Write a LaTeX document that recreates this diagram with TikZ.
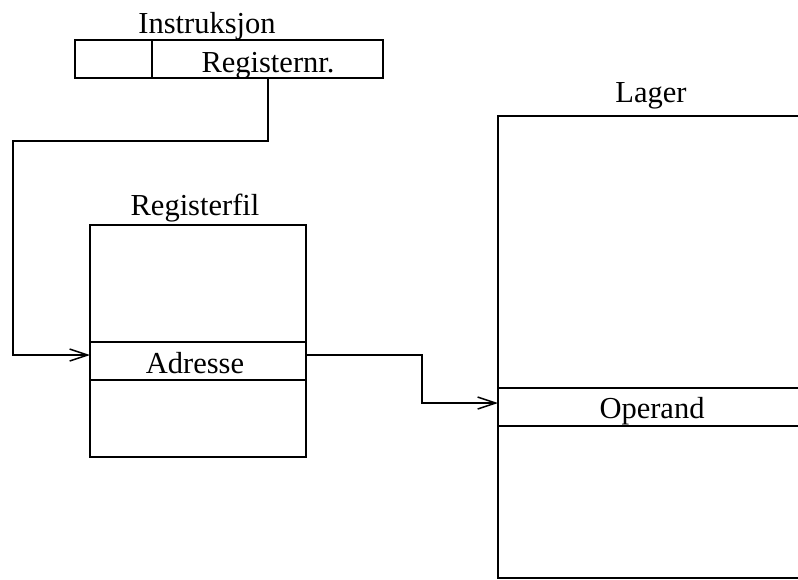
\documentclass[tikz,border=0pt]{standalone}
\usepackage{fontspec}
\setmainfont{Liberation Serif}
\usetikzlibrary{arrows.meta}
\begin{document}
\begin{tikzpicture}[x=1pt,y=-1pt,
  frame/.style={line width=1.1pt},
  lbl/.style={font=\fontsize{30.5}{32}\selectfont, inner sep=0pt, anchor=base},
  link/.style={line width=1.1pt, -{Straight Barb[length=18pt,width=12pt,line width=1.5pt]}}]
\useasboundingbox (0,0) rectangle (798,579);
\clip (0,0) rectangle (798,579);

% instruction word
\node[lbl] (tinstr) at (207,33) {Instruksjon};
\draw[frame] (75,40) rectangle (383,78);
\draw[frame] (152,40) -- (152,78);
\node[lbl] (regnr) at (268,72) {Registernr.};
\coordinate (regnrS) at (268,78);

% register file
\node[lbl] (tregf) at (195,215) {Registerfil};
\draw[frame] (90,225) rectangle (306,457);
\draw[frame] (90,342) -- (306,342) (90,380) -- (306,380);
\node[lbl] (adr) at (195,373) {Adresse};
\coordinate (adrW) at (90,355);
\coordinate (adrE) at (306,355);

% memory
\node[lbl] (tlager) at (651,102) {Lager};
\draw[frame] (498,116) rectangle (810,578);
\draw[frame] (498,388) -- (810,388) (498,426) -- (810,426);
\node[lbl] (oper) at (652,418) {Operand};
\coordinate (operW) at (498,403);

% connectors
\draw[link] (regnrS) |- (13,141) |- (adrW);
\draw[link] (adrE) -| (422,403) -- (operW);
\end{tikzpicture}
\end{document}
